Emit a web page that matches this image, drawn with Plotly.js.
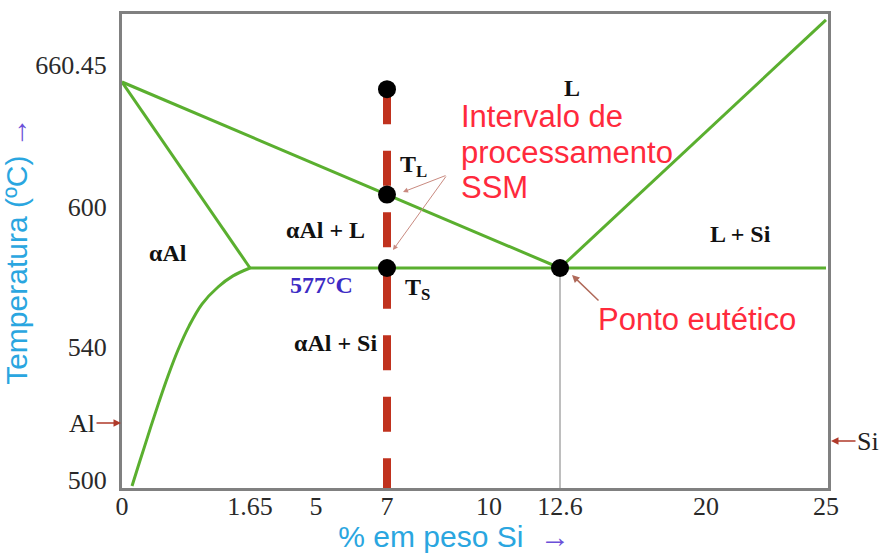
<!DOCTYPE html>
<html><head><meta charset="utf-8">
<script src="https://cdn.plot.ly/plotly-3.0.1.min.js"></script>
<style>html,body{margin:0;padding:0;background:#fff}#chart{width:879px;height:553px}</style>
</head><body><div id="chart"></div>
<script>
// ---- Data (wt% Si, temperature °C) ----
const xTicks = [0, 1.65, 5, 7, 10, 12.6, 20, 25];
const xTickLabels = ['0', '1.65', '5', '7', '10', '12.6', '20', '25'];
const yTicks = [500, 540, 600, 660.45];
const yTickLabels = ['500', '540', '600', '660.45<br>&nbsp;'];

const liquidusAlX = [0, 12.6];
const liquidusAlY = [660.45, 577];
const solidusX = [0, 1.65];
const solidusY = [660.45, 577];
const eutecticX = [1.65, 25];
const eutecticY = [577, 577];
const liquidusSiX = [12.6, 25];
const liquidusSiY = [577, 788];
const solvusX = [1.65, 1.431, 1.238, 1.031, 0.864, 0.722, 0.593, 0.477, 0.374, 0.284, 0.206, 0.129];
const solvusY = [577, 573.3, 568.1, 560.1, 549.8, 539.1, 531.3, 523.5, 516.2, 509.6, 503.9, 498.2];
const alloySi = 7;
const alloyTopT = 657;
const alloyBottomT = 495;
const eutecticSi = 12.6;
const eutecticT = 577;

// ---- Schematic (non-linear) scale of the diagram ----
const X_ANCHOR_WT = [0, 1.65, 5, 7, 10, 12.6, 20, 25];
const X_ANCHOR_POS = [0, 128, 194, 265, 367, 438, 584, 704];
const Y_ANCHOR_T = [500, 540, 577, 600, 660.45, 800];
const Y_ANCHOR_POS = [8, 141, 220, 281, 406, 474];
function interp(v, xs, ys) {
  let i = 0;
  while (i < xs.length - 2 && v > xs[i + 1]) i++;
  const t = (v - xs[i]) / (xs[i + 1] - xs[i]);
  return ys[i] + t * (ys[i + 1] - ys[i]);
}
const sx = v => interp(v, X_ANCHOR_WT, X_ANCHOR_POS);
const sy = v => interp(v, Y_ANCHOR_T, Y_ANCHOR_POS);
const mx = a => a.map(sx);
const my = a => a.map(sy);

// liquidus at the alloy composition (T_L), computed on the drawn liquidus
const liqU = mx(liquidusAlX), liqV = my(liquidusAlY);
const uAlloy = sx(alloySi);
const vTL = liqV[0] + (uAlloy - liqU[0]) / (liqU[1] - liqU[0]) * (liqV[1] - liqV[0]);

const GREEN = '#5aaf2f';
const gl = {color: GREEN, width: 3};
const traces = [
  {x: liqU, y: liqV, mode: 'lines', line: gl, hoverinfo: 'skip'},
  {x: mx(solidusX), y: my(solidusY), mode: 'lines', line: gl, hoverinfo: 'skip'},
  {x: mx(eutecticX), y: my(eutecticY), mode: 'lines', line: gl, hoverinfo: 'skip'},
  {x: mx(liquidusSiX), y: my(liquidusSiY), mode: 'lines', line: gl, hoverinfo: 'skip'},
  {x: mx(solvusX), y: my(solvusY), mode: 'lines', line: {color: GREEN, width: 3, shape: 'spline', smoothing: 1}, hoverinfo: 'skip'},
  {x: [sx(eutecticSi), sx(eutecticSi)], y: [sy(eutecticT), sy(alloyBottomT)], mode: 'lines',
   line: {color: '#a8a8a8', width: 1.5}, hoverinfo: 'skip'},
  {x: [uAlloy, uAlloy], y: [sy(alloyTopT), sy(alloyBottomT)], mode: 'lines',
   line: {color: '#c0321e', width: 8, dash: '35px,26.5px'}, hoverinfo: 'skip'},
  {x: [uAlloy, uAlloy, uAlloy, sx(eutecticSi)], y: [sy(alloyTopT), vTL, sy(eutecticT), sy(eutecticT)],
   mode: 'markers', marker: {color: '#000', size: 18}, hoverinfo: 'skip', cliponaxis: false}
];

// ---- layout helpers (pixel position inside the figure -> paper) ----
const L = 122, R = 828, T = 14, B = 488;
const px = p => (p - L) / (R - L);
const py = p => (B - p) / (B - T);

const serif = (size, color) => ({family: 'Liberation Serif, Times New Roman, serif', size: size, color: color || '#111'});
const sans = (size, color) => ({family: 'Liberation Sans, Arial, sans-serif', size: size, color: color});
const RED = '#ff2a3c';

function lbl(text, x, y, font, xanchor) {
  return {xref: 'paper', yref: 'paper', x: px(x), y: py(y), text: text, showarrow: false,
          font: font, xanchor: xanchor || 'center', yanchor: 'middle'};
}
function arrow(hx, hy, tx, ty, color, width) {
  return {xref: 'paper', yref: 'paper', x: px(hx), y: py(hy), ax: tx - hx, ay: ty - hy, text: '',
          showarrow: true, arrowhead: 2, arrowsize: 1, arrowwidth: width, arrowcolor: color};
}

const annotations = [
  lbl('<b>L</b>', 572, 88, serif(24)),
  lbl('<b>T<sub>L</sub></b>', 398, 166, serif(24), 'left'),
  lbl('<b>\u03b1Al + L</b>', 325, 230, serif(24)),
  lbl('<b>\u03b1Al</b>', 168, 253, serif(24)),
  lbl('<b>577\u00b0C</b>', 321, 285, serif(24, '#3d2bc4')),
  lbl('<b>T<sub>S</sub></b>', 403, 289, serif(24), 'left'),
  lbl('<b>\u03b1Al + Si</b>', 335, 343, serif(24)),
  lbl('<b>L + Si</b>', 740, 234, serif(24)),
  lbl('Intervalo de', 459, 116, sans(31, RED), 'left'),
  lbl('processamento', 459, 152, sans(31, RED), 'left'),
  lbl('SSM', 459, 187, sans(31, RED), 'left'),
  lbl('Ponto eutético', 596, 319, sans(31, RED), 'left'),
  arrow(403, 192, 447, 175, '#c98a80', 1),
  arrow(393, 250, 447, 175, '#c98a80', 1),
  arrow(572, 275, 600, 302, '#b06a5a', 1.5),
  {xref: 'paper', yref: 'paper', x: px(121), y: py(423), ax: -39, ay: 0, text: 'Al',
   font: serif(26, '#222'), showarrow: true, arrowhead: 2, arrowsize: 1, arrowwidth: 1.5, arrowcolor: '#b03a2a'},
  {xref: 'paper', yref: 'paper', x: px(831), y: py(441), ax: 37, ay: 0, text: 'Si',
   font: serif(26, '#222'), showarrow: true, arrowhead: 2, arrowsize: 1, arrowwidth: 1.5, arrowcolor: '#b03a2a'}
];

const TITLE_BLUE = '#2aa6e0';
const ARROW_PURPLE = '#6b4fd8';

const layout = {
  width: 879, height: 553,
  margin: {l: L, r: 879 - R, t: T, b: 553 - B, pad: 0},
  paper_bgcolor: '#fff', plot_bgcolor: '#fff',
  showlegend: false,
  xaxis: {
    range: [0, 706], tickvals: mx(xTicks), ticktext: xTickLabels,
    showgrid: false, zeroline: false, showline: true, mirror: true,
    linecolor: '#808080', linewidth: 3, ticks: '',
    tickfont: serif(26, '#2a2a2a'), ticklabelstandoff: -7,
    title: {text: '% em peso Si  <span style="color:' + ARROW_PURPLE + '">\u2192</span>&nbsp;&nbsp;&nbsp;&nbsp;&nbsp;',
            font: sans(30, TITLE_BLUE), standoff: 12}
  },
  yaxis: {
    range: [0, 474], tickvals: my(yTicks), ticktext: yTickLabels,
    showgrid: false, zeroline: false, showline: true, mirror: true,
    linecolor: '#808080', linewidth: 3, ticks: '',
    tickfont: serif(26, '#2a2a2a'), ticklabelstandoff: 7,
    title: {text: 'Temperatura (\u00baC) <span style="color:' + ARROW_PURPLE + '">\u2192</span>',
            font: sans(30, TITLE_BLUE), standoff: 0}
  },
  annotations: annotations
};

Plotly.newPlot('chart', traces, layout, {staticPlot: true, displayModeBar: false});
</script>
</body></html>
